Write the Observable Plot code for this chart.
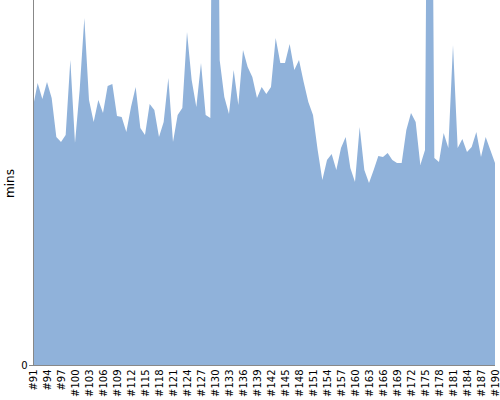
<!DOCTYPE html>
<html>
<head>
<meta charset="utf-8">
<script src="https://cdn.jsdelivr.net/npm/d3@7"></script>
<script src="https://cdn.jsdelivr.net/npm/@observablehq/plot@0.6"></script>
<style>
  html, body { margin: 0; padding: 0; background: #fff; }
  #chart { width: 500px; height: 400px; }
</style>
</head>
<body>
<div id="chart"></div>
<script>
// Run numbers #91 .. #190
const runs = d3.range(91, 191);
// Durations (mins); #130 and #176 run off the top
const mins = [
  258, 282, 266, 283, 267, 228, 223, 230, 305, 222,
  275, 347, 265, 243, 265, 252, 279, 281, 249, 248,
  233, 258, 278, 237, 230, 261, 255, 228, 243, 287,
  223, 250, 257, 333, 285, 258, 302, 250, 247, 900,
  305, 268, 251, 295, 260, 315, 298, 288, 267, 278,
  271, 278, 327, 302, 302, 321, 295, 305, 283, 263,
  250, 215, 185, 205, 211, 195, 217, 228, 197, 183,
  238, 195, 182, 195, 209, 208, 212, 205, 202, 202,
  235, 252, 243, 200, 215, 900, 207, 203, 232, 217,
  320, 217, 226, 213, 218, 233, 208, 228, 215, 202
];
const xTicks = d3.range(91, 191, 3);
const yTicks = [0];
const yMax = 365;
const yLabel = "mins";

const data = runs.map((r, i) => ({run: r, mins: mins[i]}));

const chart = Plot.plot({
  width: 500,
  height: 400,
  marginTop: 0,
  marginLeft: 33,
  marginRight: 5,
  marginBottom: 35,
  style: {fontFamily: "DejaVu Sans, sans-serif", fontSize: "10px", color: "#000", background: "#fff"},
  x: {type: "linear", domain: [91, 190]},
  y: {domain: [0, yMax]},
  marks: [
    Plot.areaY(data, {x: "run", y: "mins", fill: "#90b2da", clip: true}),
    Plot.ruleX([91], {stroke: "#888"}),
    Plot.ruleY([0], {stroke: "#888"}),
    Plot.axisX({ticks: xTicks, tickFormat: d => "#" + d, tickRotate: -90, tickSize: 0, tickPadding: 4, label: null, fontSize: 10}),
    Plot.axisY({ticks: yTicks, tickSize: 4, stroke: "#888", tickPadding: 2, label: null, fontSize: 10}),
    Plot.text([yLabel], {frameAnchor: "left", rotate: -90, dx: -23, dy: 15, fontSize: 12, fill: "#000"})
  ]
});
document.getElementById("chart").appendChild(chart);
</script>
</body>
</html>
